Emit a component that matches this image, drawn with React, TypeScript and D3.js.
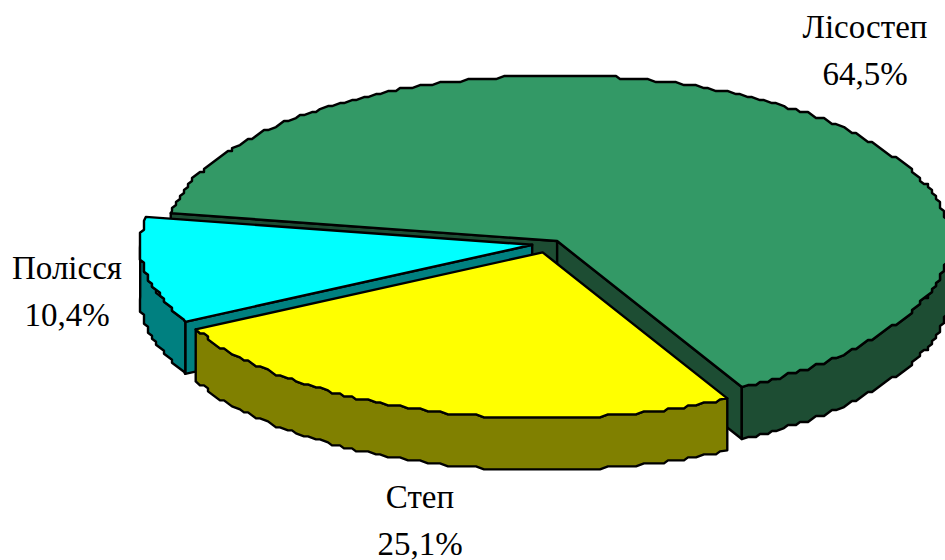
import React from "react";
import * as d3 from "d3";

const regions = ["Лісостеп", "Степ", "Полісся"];
const shares = [64.5, 25.1, 10.4];
const shareLabels = ["64,5%", "25,1%", "10,4%"];
const topColors = ["#339966", "#ffff00", "#00ffff"];
const wallColors = ["#1d4d33", "#808000", "#008080"];
const labelAnchors: [number, number][] = [[865, 38], [420, 508], [67, 279]];
const liftY = [0, 1, 3];
const driftX = [0, 0, 1];
const paintOrder = [0, 2, 1];

const W = 945;
const H = 560;
const CX = 547.5;
const CY = 246.7;
const RX = 392;
const RY = 165.5;
const DEPTH = 52;
const EXPLODE = 16.5;
const START = (-80.3 * Math.PI) / 180;
const GRID_X = 4;
const GRID_Y = 3;
const RIM_STEP = 0.018;

type Pt = [number, number];

const pie = d3.pie<number>().sort(null).startAngle(START).endAngle(START + 2 * Math.PI);
const arcs = pie(shares);

// Screen position on the tilted disc for a clockwise-from-top angle
const onDisc = (a: number, ox: number, oy: number): Pt => [
  ox + RX * Math.sin(a),
  oy - RY * Math.cos(a),
];

// The rim is plotted on a coarse grid, which gives it a slightly wavering outline
function rim(a0: number, a1: number, ox: number, oy: number): Pt[] {
  const n = Math.max(2, Math.round((a1 - a0) / RIM_STEP));
  const out: Pt[] = [];
  for (let i = 0; i <= n; i++) {
    const [x, y] = onDisc(a0 + ((a1 - a0) * i) / n, ox, oy);
    const q: Pt =
      i === 0 || i === n
        ? [x, y]
        : [Math.round(x / GRID_X) * GRID_X, oy + Math.round((y - oy) / GRID_Y) * GRID_Y];
    const last = out[out.length - 1];
    if (!last || last[0] !== q[0] || last[1] !== q[1]) out.push(q);
  }
  return out;
}

const path = d3.line<Pt>().curve(d3.curveLinear);
const down = (p: Pt): Pt => [p[0], p[1] + DEPTH];

function Slice({ index }: { index: number }) {
  const d = arcs[index];
  const mid = (d.startAngle + d.endAngle) / 2;
  const ox = CX + EXPLODE * Math.sin(mid) + driftX[index];
  const oy = CY - (EXPLODE * RY * Math.cos(mid)) / RX - liftY[index];
  const apex: Pt = [ox, oy];
  const top = rim(d.startAngle, d.endAngle, ox, oy);
  const first = top[0];
  const last = top[top.length - 1];

  // A cut face shows only when its outward normal points towards the viewer
  const showStart = Math.sin(d.startAngle) < 0;
  const showEnd = Math.sin(d.endAngle) > 0;

  // Only the part of the rim facing the viewer has a visible outer wall
  const lo = Math.max(d.startAngle, Math.PI / 2);
  const hi = Math.min(d.endAngle, (3 * Math.PI) / 2);
  const front = lo < hi ? rim(lo, hi, ox, oy) : [];
  const outer = front.length ? [...front, ...front.slice().reverse().map(down)] : [];

  const style = { stroke: "#000", strokeWidth: 2.4, strokeLinejoin: "round" as const };
  return (
    <g>
      {showStart && <path d={path([apex, first, down(first), down(apex)]) + "Z"} fill={wallColors[index]} {...style} />}
      {showEnd && <path d={path([apex, last, down(last), down(apex)]) + "Z"} fill={wallColors[index]} {...style} />}
      {outer.length > 0 && <path d={path(outer) + "Z"} fill={wallColors[index]} {...style} />}
      <path d={path([apex, ...top]) + "Z"} fill={topColors[index]} {...style} />
    </g>
  );
}

export default function App() {
  return (
    <svg
      width={W}
      height={H}
      viewBox={`0 0 ${W} ${H}`}
      style={{ position: "absolute", left: 0, top: 0, background: "#fff" }}
    >
      {paintOrder.map((i) => (
        <Slice key={regions[i]} index={i} />
      ))}
      {regions.map((name, i) => (
        <text
          key={name}
          x={labelAnchors[i][0]}
          y={labelAnchors[i][1]}
          textAnchor="middle"
          fontFamily="'Liberation Serif', serif"
          fontSize={33}
          fill="#000"
        >
          <tspan x={labelAnchors[i][0]}>{name}</tspan>
          <tspan x={labelAnchors[i][0]} dy={47}>{shareLabels[i]}</tspan>
        </text>
      ))}
    </svg>
  );
}
